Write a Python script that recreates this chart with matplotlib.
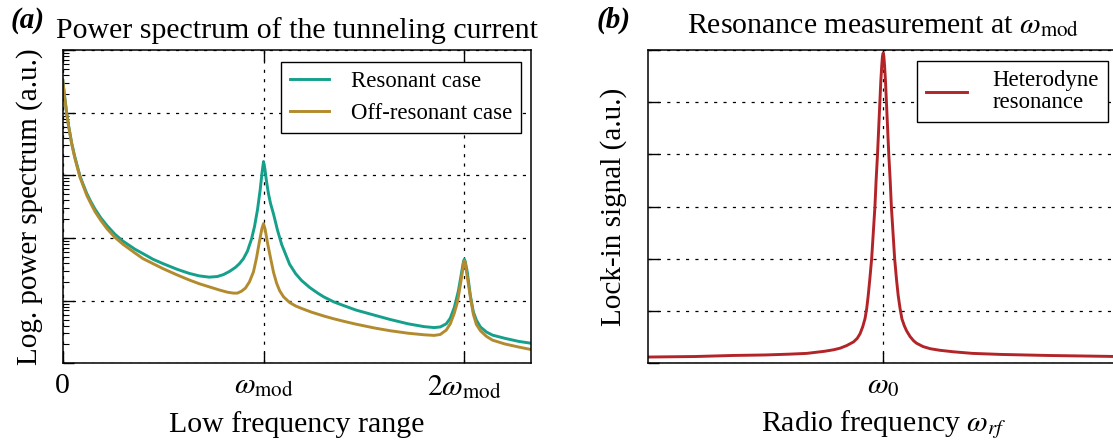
import matplotlib
matplotlib.use('Agg')
import matplotlib.pyplot as plt
from matplotlib.ticker import LogLocator, NullFormatter

plt.rcParams['font.family'] = ['Liberation Serif', 'DejaVu Serif']
plt.rcParams['mathtext.fontset'] = 'stix'

# (a) power spectrum, x in units of w_mod, y given as log10 of the spectrum
freq_res = [0.0, 0.01, 0.02, 0.03, 0.045, 0.06, 0.075, 0.086, 0.10, 0.12, 0.14, 0.161,
            0.19, 0.22, 0.26, 0.30, 0.36, 0.40, 0.45, 0.50, 0.57, 0.63, 0.68, 0.73,
            0.77, 0.80, 0.83, 0.86, 0.88, 0.90, 0.92, 0.94, 0.955, 0.97, 0.983, 0.993,
            1.0, 1.007, 1.015, 1.025, 1.035, 1.05, 1.07, 1.09, 1.11, 1.13, 1.16, 1.19,
            1.23, 1.27, 1.30, 1.35, 1.40, 1.46, 1.55, 1.63, 1.72, 1.80, 1.85, 1.88,
            1.91, 1.93, 1.95, 1.97, 1.98, 1.99, 1.996, 2.0, 2.005, 2.015, 2.03, 2.045,
            2.06, 2.08, 2.11, 2.14, 2.20, 2.27, 2.332]
log_res = [4.52, 4.25, 3.99, 3.78, 3.51, 3.30, 3.12, 2.99, 2.87, 2.71, 2.58, 2.46,
           2.32, 2.20, 2.06, 1.95, 1.82, 1.75, 1.66, 1.59, 1.50, 1.435, 1.395, 1.375,
           1.385, 1.415, 1.465, 1.53, 1.59, 1.67, 1.79, 1.98, 2.18, 2.45, 2.76, 3.05,
           3.22, 3.10, 2.90, 2.70, 2.55, 2.38, 2.12, 1.90, 1.74, 1.58, 1.43, 1.32,
           1.21, 1.12, 1.06, 0.98, 0.92, 0.85, 0.77, 0.70, 0.63, 0.585, 0.57, 0.58,
           0.63, 0.72, 0.89, 1.15, 1.33, 1.52, 1.63, 1.66, 1.62, 1.45, 1.08, 0.82,
           0.69, 0.58, 0.50, 0.45, 0.40, 0.35, 0.32]

freq_off = [0.0, 0.01, 0.02, 0.03, 0.045, 0.06, 0.075, 0.086, 0.10, 0.12, 0.14, 0.161,
            0.19, 0.22, 0.26, 0.30, 0.36, 0.40, 0.45, 0.50, 0.57, 0.63, 0.68, 0.73,
            0.78, 0.82, 0.85, 0.87, 0.89, 0.91, 0.93, 0.95, 0.965, 0.98, 0.992, 1.0,
            1.008, 1.02, 1.035, 1.05, 1.065, 1.08, 1.10, 1.13, 1.16, 1.19, 1.24, 1.30,
            1.35, 1.40, 1.46, 1.55, 1.63, 1.72, 1.80, 1.85, 1.88, 1.91, 1.93, 1.95,
            1.966, 1.98, 1.99, 1.996, 2.0, 2.005, 2.01, 2.02, 2.03, 2.045, 2.06, 2.08,
            2.11, 2.14, 2.20, 2.27, 2.332]
log_off = [4.52, 4.24, 3.98, 3.77, 3.50, 3.28, 3.10, 2.97, 2.85, 2.68, 2.55, 2.42,
           2.28, 2.15, 2.01, 1.90, 1.76, 1.67, 1.59, 1.51, 1.41, 1.33, 1.27, 1.22,
           1.17, 1.135, 1.12, 1.12, 1.15, 1.20, 1.30, 1.46, 1.68, 1.95, 2.15, 2.23,
           2.14, 1.92, 1.68, 1.45, 1.28, 1.16, 1.06, 0.97, 0.915, 0.875, 0.815, 0.755,
           0.71, 0.67, 0.625, 0.565, 0.52, 0.48, 0.455, 0.445, 0.46, 0.53, 0.63, 0.80,
           0.98, 1.25, 1.45, 1.60, 1.64, 1.60, 1.47, 1.27, 1.06, 0.78, 0.62, 0.52,
           0.43, 0.37, 0.31, 0.26, 0.22]

# (b) lock-in signal against detuning from w_0
detuning = [-1.0, -0.8, -0.64, -0.5, -0.4, -0.325, -0.25, -0.21, -0.183, -0.155,
            -0.126, -0.11, -0.098, -0.087, -0.077, -0.07, -0.064, -0.057, -0.049,
            -0.042, -0.035, -0.03, -0.024, -0.019, -0.014, -0.01, -0.006, -0.003, 0.0,
            0.003, 0.006, 0.01, 0.014, 0.019, 0.024, 0.03, 0.035, 0.042, 0.049, 0.057,
            0.064, 0.072, 0.08, 0.09, 0.10, 0.115, 0.13, 0.142, 0.17, 0.20, 0.24, 0.30,
            0.38, 0.50, 0.70, 0.85, 1.0]
lockin = [0.12, 0.13, 0.15, 0.16, 0.175, 0.19, 0.23, 0.26, 0.29, 0.34,
          0.41, 0.48, 0.57, 0.70, 0.86, 1.05, 1.28, 1.60, 2.0,
          2.5, 3.0, 3.5, 4.0, 4.5, 5.0, 5.4, 5.7, 5.88, 5.94,
          5.88, 5.7, 5.4, 5.0, 4.5, 4.0, 3.5, 3.0, 2.5, 2.0, 1.6,
          1.3, 1.05, 0.85, 0.72, 0.62, 0.51, 0.43, 0.385, 0.32, 0.28, 0.25, 0.22,
          0.19, 0.17, 0.15, 0.14, 0.13]

teal = '#14a08a'
gold = '#b38b2f'
red = '#b22428'

W, H = 1113, 445
fig = plt.figure(figsize=(W / 100, H / 100), dpi=100)


def frac(x0, x1, ytop, ybot):
    return [x0 / W, 1 - ybot / H, (x1 - x0) / W, (ybot - ytop) / H]


grid_kw = dict(color='black', linestyle=(0, (2.5, 5)), linewidth=0.9)
big = 21.5
lw = 2.1

ax1 = fig.add_axes(frac(62.7, 531, 50, 363.3))
ax1.plot(freq_res, [10 ** v for v in log_res], color=teal, lw=lw, label='Resonant case')
ax1.plot(freq_off, [10 ** v for v in log_off], color=gold, lw=lw, label='Off-resonant case')
ax1.set_yscale('log')
ax1.set_ylim(1, 1e5)
ax1.set_xlim(0, 2.332)
ax1.set_xticks([0, 1, 2])
ax1.set_xticklabels(['0', r'$\omega_{\rm mod}$', r'$2\omega_{\rm mod}$'])
ax1.yaxis.set_major_locator(LogLocator(base=10, numticks=10))
ax1.yaxis.set_minor_locator(LogLocator(base=10, subs=range(2, 10), numticks=50))
ax1.yaxis.set_major_formatter(NullFormatter())
ax1.yaxis.set_minor_formatter(NullFormatter())
ax1.grid(True, which='major', **grid_kw)
ax1.set_title('Power spectrum of the tunneling current', fontsize=big, pad=9)
ax1.set_xlabel('Low frequency range', fontsize=big, labelpad=7)
ax1.set_ylabel('Log. power spectrum (a.u.)', fontsize=21, labelpad=11)
leg1 = ax1.legend(loc='upper right', bbox_to_anchor=(0.979, 0.963), borderaxespad=0,
                  fontsize=16.4, handlelength=1.7, handletextpad=0.95, fancybox=False,
                  edgecolor='black', framealpha=1, borderpad=0.4, labelspacing=0.5)
leg1.get_frame().set_linewidth(1.0)

ax2 = fig.add_axes(frac(648.3, 1118, 50, 363.3))
ax2.plot(detuning, lockin, color=red, lw=lw, label='Heterodyne\nresonance')
ax2.set_xlim(-1, 1)
ax2.set_ylim(0, 6)
ax2.set_xticks([0])
ax2.set_xticklabels([r'$\omega_0$'])
ax2.set_yticks([0, 1, 2, 3, 4, 5, 6])
ax2.yaxis.set_major_formatter(NullFormatter())
ax2.grid(True, which='major', **grid_kw)
ax2.set_title(r'Resonance measurement at $\omega_{\rm mod}$', fontsize=big, pad=12)
ax2.set_xlabel(r'Radio frequency $\omega_{rf}$', fontsize=big, labelpad=7)
ax2.set_ylabel('Lock-in signal (a.u.)', fontsize=21, labelpad=12)
leg2 = ax2.legend(loc='upper right', bbox_to_anchor=(0.978, 0.965), borderaxespad=0,
                  fontsize=16.4, handlelength=1.8, handletextpad=1.1, fancybox=False,
                  edgecolor='black', framealpha=1, borderpad=0.4)
leg2.get_frame().set_linewidth(1.0)
for t in leg2.get_texts():
    t.set_linespacing(1.05)

for ax in (ax1, ax2):
    for sp in ax.spines.values():
        sp.set_linewidth(1.1)
    ax.tick_params(axis='x', which='both', direction='in', top=True, bottom=True,
                   labelsize=big, pad=7)
    ax.tick_params(axis='y', which='both', direction='in', left=True, right=False)
    ax.tick_params(which='major', length=8, width=1.0)
    ax.tick_params(which='minor', length=4, width=0.8)
    ax.set_axisbelow(True)

fig.text(11 / W, 1 - 20 / H, '(a)', fontsize=21, fontweight='bold', fontstyle='italic',
         va='center', ha='left')
fig.text(597 / W, 1 - 20 / H, '(b)', fontsize=21, fontweight='bold', fontstyle='italic',
         va='center', ha='left')

fig.savefig('out.png', dpi=100)
